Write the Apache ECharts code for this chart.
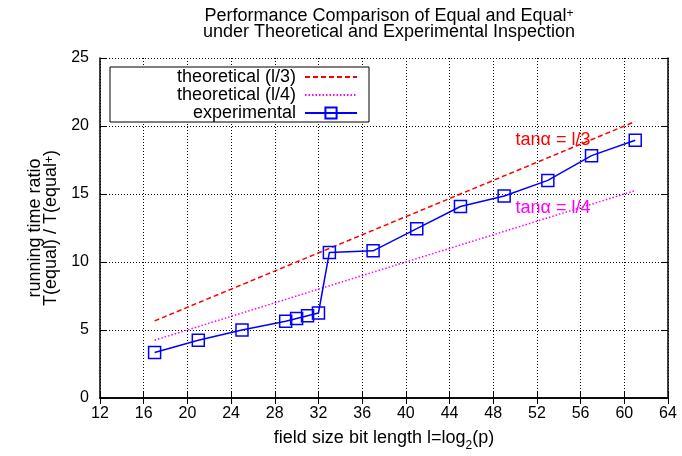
<!DOCTYPE html>
<html>
<head>
<meta charset="UTF-8">
<title>equal vs equal+</title>
<script src="https://cdn.jsdelivr.net/npm/echarts@6/dist/echarts.min.js"></script>
<style>
    body { margin: 0; padding: 0; background: #fff; }
    #main { width: 682px; height: 456px; }
</style>
</head>
<body>
<div id="main"></div>
<script>
    // field size bit length l, and measured T(equal)/T(equal+)
    const bitLength = [17, 21, 25, 29, 30, 31, 32, 33, 37, 41, 45, 49, 53, 57, 61];
    const experimental = [3.35, 4.25, 5.0, 5.65, 5.85, 6.05, 6.25, 10.7, 10.82, 12.45, 14.08, 14.85, 16.0, 17.82, 18.95];
    // theoretical lines, end points
    const theoX = [17, 61];
    const theo3 = [5.67, 20.33];
    const theo4 = [4.25, 15.25];
    // where the tan labels sit (data coords)
    const tan3At = [50, 19.0];
    const tan4At = [50, 14.0];

    const FONT = 'Liberation Sans, Arial, sans-serif';
    const rich = {
        a: { fontFamily: FONT, fontSize: 18, fontWeight: 'normal', lineHeight: 16, color: '#000' },
        s: { fontFamily: FONT, fontSize: 12, fontWeight: 'normal', lineHeight: 16, verticalAlign: 'top', color: '#000', padding: [0, 0, 4, 0] },
        b: { fontFamily: FONT, fontSize: 12, fontWeight: 'normal', lineHeight: 16, verticalAlign: 'bottom', color: '#000', padding: [0, 0, -6, 0] }
    };

    function pairs(xs, ys) {
        return xs.map((x, i) => [x, ys[i]]);
    }

    const chart = echarts.init(document.getElementById('main'), null, {renderer: 'canvas'});

    const gridLine = { show: true, lineStyle: { color: '#000', width: 1, type: [1, 2] } };
    const axisLine = { show: true, lineStyle: { color: '#000', width: 1.5 } };
    const tick = { show: true, inside: true, length: 6, lineStyle: { color: '#000', width: 1 } };

    chart.setOption({
        backgroundColor: '#fff',
        animation: false,
        title: {
            text: '{a|Performance Comparison of Equal and Equal}{s|+}\n{a|under Theoretical and Experimental Inspection}',
            left: 384,
            top: 3,
            textAlign: 'center',
            textStyle: { rich: rich }
        },
        grid: { left: 100, right: 14, top: 58, bottom: 58, outerBoundsMode: 'none', containLabel: false },
        legend: {
            left: 110,
            top: 67,
            orient: 'vertical',
            align: 'right',
            padding: [1, 11, 0, 4],
            itemWidth: 52,
            itemHeight: 14,
            itemGap: 0,
            borderColor: '#000',
            borderWidth: 1,
            borderRadius: 0,
            backgroundColor: '#fff',
            textStyle: { fontFamily: FONT, fontSize: 18, lineHeight: 14, color: '#000', width: 182, padding: [0, 4, 0, 0] },
            data: [
                { name: 'theoretical (l/3)', itemStyle: { opacity: 0 } },
                { name: 'theoretical (l/4)', itemStyle: { opacity: 0 } },
                { name: 'experimental' }
            ]
        },
        xAxis: [{
            type: 'value',
            min: 12, max: 64, interval: 4,
            name: '{a|field size bit length l=log}{b|2}{a|(p)}',
            nameLocation: 'middle',
            nameGap: 32,
            nameTextStyle: { rich: rich },
            axisLine: axisLine,
            axisTick: tick,
            axisLabel: { fontFamily: FONT, fontSize: 16, color: '#000', margin: 8 },
            splitLine: gridLine
        }, {
            type: 'value',
            position: 'top',
            min: 12, max: 64, interval: 4,
            axisLine: axisLine,
            axisTick: tick,
            axisLabel: { show: false },
            splitLine: { show: false }
        }],
        yAxis: [{
            type: 'value',
            min: 0, max: 25, interval: 5,
            name: '{a|running time ratio}\n{a|T(equal) / T(equal}{s|+}{a|)}',
            nameLocation: 'middle',
            nameRotate: 90,
            nameGap: 29,
            nameTextStyle: { rich: rich },
            axisLine: axisLine,
            axisTick: tick,
            axisLabel: { fontFamily: FONT, fontSize: 16, color: '#000', margin: 11 },
            splitLine: gridLine
        }, {
            type: 'value',
            position: 'right',
            min: 0, max: 25, interval: 5,
            axisLine: axisLine,
            axisTick: tick,
            axisLabel: { show: false },
            splitLine: { show: false }
        }],
        series: [{
            name: 'theoretical (l/3)',
            type: 'line',
            data: pairs(theoX, theo3),
            symbol: 'none',
            itemStyle: { color: '#ff0000' },
            lineStyle: { color: '#ff0000', width: 1.5, type: [5, 3] },
            markPoint: {
                symbol: 'rect',
                symbolSize: 1,
                itemStyle: { color: 'transparent' },
                label: { show: true, position: 'right', distance: 0, formatter: 'tanα = l/3',
                    fontFamily: FONT, fontSize: 18, color: '#ff0000' },
                data: [{ coord: tan3At }]
            }
        }, {
            name: 'theoretical (l/4)',
            type: 'line',
            data: pairs(theoX, theo4),
            symbol: 'none',
            itemStyle: { color: '#ff00ff' },
            lineStyle: { color: '#ff00ff', width: 1.5, type: [1.5, 2] },
            markPoint: {
                symbol: 'rect',
                symbolSize: 1,
                itemStyle: { color: 'transparent' },
                label: { show: true, position: 'right', distance: 0, formatter: 'tanα = l/4',
                    fontFamily: FONT, fontSize: 18, color: '#ff00ff' },
                data: [{ coord: tan4At }]
            }
        }, {
            name: 'experimental',
            type: 'line',
            data: pairs(bitLength, experimental),
            symbol: 'rect',
            symbolSize: 12,
            itemStyle: { color: 'rgba(0,0,0,0)', borderColor: '#0000ff', borderWidth: 1.5 },
            lineStyle: { color: '#0000ff', width: 1.5 }
        }]
    });
</script>
</body>
</html>
